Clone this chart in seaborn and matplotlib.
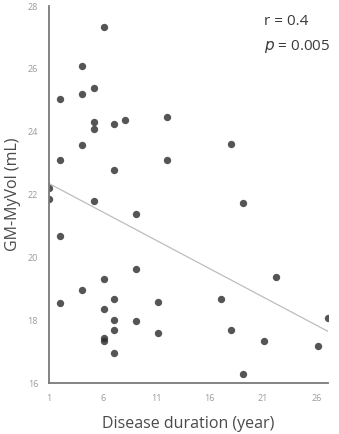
"""GM-MyVol vs disease duration scatter with linear fit."""
import matplotlib
matplotlib.use("Agg")
import matplotlib.pyplot as plt
import seaborn as sns
import pandas as pd

# values
duration = [
    6.1, 4.05, 5.16, 2.05, 4.05, 5.16, 5.16, 7.1, 8.08, 12.0,
    4.05, 2.05, 12.0, 7.1, 1.0, 1.0, 5.16, 9.1, 18.05, 19.15,
    2.05, 9.1, 6.1, 4.05, 2.05, 7.1, 11.16, 6.1, 7.1, 9.1,
    7.1, 6.1, 6.1, 11.16, 7.1, 22.2, 17.06, 27.07, 18.03, 21.1,
    26.13, 19.15,
]
gm_myvol = [
    27.35, 26.08, 25.4, 25.03, 25.19, 24.3, 24.09, 24.25, 24.37, 24.46,
    23.57, 23.1, 23.1, 22.8, 22.22, 21.85, 21.79, 21.37, 23.62, 21.73,
    20.68, 19.63, 19.32, 18.96, 18.54, 18.68, 18.59, 18.35, 18.02, 17.97,
    17.7, 17.44, 17.34, 17.6, 16.96, 19.39, 18.68, 18.07, 17.7, 17.34,
    17.18, 16.29,
]
x_ticks = [1, 6, 11, 16, 21, 26]
y_ticks = [16, 18, 20, 22, 24, 26, 28]

df = pd.DataFrame({"duration": duration, "gm": gm_myvol})

sns.set_style("white")
plt.rcParams["font.family"] = ["Open Sans", "DejaVu Sans"]

fig = plt.figure(figsize=(3.39, 4.34), dpi=100)
ax = fig.add_axes([0.145, 0.117, 0.823, 0.869])

sns.regplot(
    data=df, x="duration", y="gm", ax=ax, ci=None, truncate=True,
    scatter_kws={"s": 28, "color": "#2b2b2b", "linewidths": 0},
    line_kws={"color": "#bdbdbd", "linewidth": 0.9},
)

ax.set_xlim(1, 27.1)
ax.set_ylim(16, 28)
ax.set_xticks(x_ticks)
ax.set_yticks(y_ticks)
ax.tick_params(length=0, labelsize=6.5, labelcolor="#9a9a9a", pad=8)

for side in ["top", "right"]:
    ax.spines[side].set_visible(False)
for side in ["left", "bottom"]:
    ax.spines[side].set_color("#7a7a7a")
    ax.spines[side].set_linewidth(1.3)

ax.set_xlabel("Disease duration (year)", fontsize=11.5, color="#4a4a4a", labelpad=9)
ax.set_ylabel("GM-MyVol (mL)", fontsize=11.5, color="#4a4a4a", labelpad=5)

ax.text(0.77, 0.978, "r = 0.4", transform=ax.transAxes, fontsize=11,
        color="#3a3a3a", va="top", ha="left")
ax.text(0.77, 0.915, "$\\it{p}$ = 0.005", transform=ax.transAxes, fontsize=11,
        color="#3a3a3a", va="top", ha="left")

fig.savefig("out.png", dpi=100, facecolor="white")
